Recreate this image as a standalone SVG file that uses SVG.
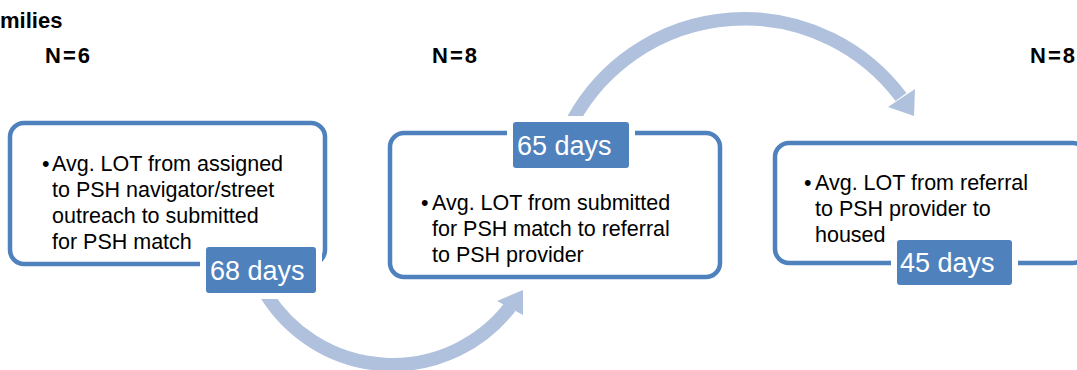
<svg xmlns="http://www.w3.org/2000/svg" width="1077" height="370" viewBox="0 0 1077 370">
  <style>
    .head { font-family: "Liberation Sans", Arial, sans-serif; font-weight: bold; font-size: 22px; fill: #000; }
    .body { font-family: "Liberation Sans", Arial, sans-serif; font-size: 21.5px; fill: #000; }
    .box { fill: #fff; stroke: #4f81bd; stroke-width: 4.5; }
    .tagbg { fill: #fff; }
    .tag { fill: #4f81bd; }
    .tagtext { font-family: "Liberation Sans", Arial, sans-serif; font-size: 27px; fill: #fff; }
    .flow { fill: none; stroke: #b0c1de; stroke-width: 13.5; }
    .head-tip { fill: #b0c1de; }
  </style>

  <!-- headings -->
  <text class="head" x="0" y="28">milies</text>
  <text class="head" x="45" y="63" letter-spacing="2">N=6</text>
  <text class="head" x="432" y="63" letter-spacing="2">N=8</text>
  <text class="head" x="1030" y="63" letter-spacing="2">N=8</text>

  <!-- curved connectors -->
  <g id="connectors">
    <path class="flow" d="M 266 294 A 148.6 148.6 0 0 0 510 307"/>
    <polygon class="head-tip" points="497,301 523,290 523,315"/>
    <path class="flow" d="M 573 120 A 195.7 195.7 0 0 1 901 97"/>
    <polygon class="head-tip" points="888,107 915,89 914,116"/>
  </g>

  <!-- step 1 -->
  <g id="step1">
    <rect class="box" x="10" y="123" width="315" height="141" rx="14"/>
    <text class="body" x="42" y="171">•</text>
    <text class="body" x="52" y="171">Avg. LOT from assigned</text>
    <text class="body" x="52" y="197">to PSH navigator/street</text>
    <text class="body" x="52" y="223">outreach to submitted</text>
    <text class="body" x="52" y="249">for PSH match</text>
    <rect class="tagbg" x="200" y="241" width="122" height="58"/>
    <rect class="tag" x="206" y="247" width="110" height="46" rx="3"/>
    <text class="tagtext" x="210" y="280">68 days</text>
  </g>

  <!-- step 2 -->
  <g id="step2">
    <rect class="box" x="390" y="133" width="330" height="144" rx="14"/>
    <text class="body" x="421" y="210">•</text>
    <text class="body" x="432" y="210">Avg. LOT from submitted</text>
    <text class="body" x="432" y="236">for PSH match to referral</text>
    <text class="body" x="432" y="262">to PSH provider</text>
    <rect class="tagbg" x="507" y="116" width="128" height="58"/>
    <rect class="tag" x="513" y="122" width="116" height="46" rx="3"/>
    <text class="tagtext" x="517" y="155">65 days</text>
  </g>

  <!-- step 3 -->
  <g id="step3">
    <rect class="box" x="775" y="143" width="312" height="120" rx="14"/>
    <text class="body" x="804" y="190">•</text>
    <text class="body" x="815" y="190">Avg. LOT from referral</text>
    <text class="body" x="815" y="216">to PSH provider to</text>
    <text class="body" x="815" y="242">housed</text>
    <rect class="tagbg" x="891" y="234" width="127" height="57"/>
    <rect class="tag" x="897" y="240" width="115" height="45" rx="3"/>
    <text class="tagtext" x="900" y="272">45 days</text>
  </g>
</svg>
